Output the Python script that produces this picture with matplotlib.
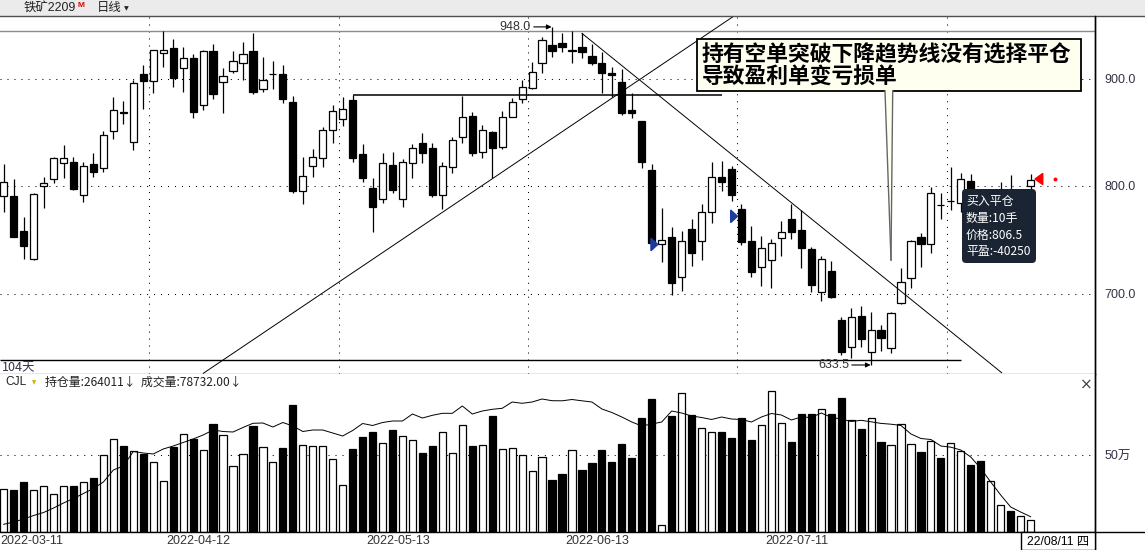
import matplotlib
matplotlib.use("Agg")
import matplotlib.pyplot as plt
import matplotlib.transforms as mtransforms
from matplotlib.patches import Rectangle, FancyBboxPatch, Polygon
import numpy as np

plt.rcParams['font.family'] = ['Liberation Sans', 'Noto Sans CJK SC', 'DejaVu Sans']
CJK = ['Noto Sans CJK SC', 'DejaVu Sans']

# ---------------- data ----------------
opens = [791.0, 790.7, 758.1, 731.8, 800.0, 806.2, 821.1, 822.0, 791.3, 820.2,
         816.5, 851.2, 868.6, 840.7, 904.2, 898.0, 923.4, 928.1, 909.5, 918.8,
         875.1, 925.6, 896.7, 907.0, 914.1, 925.6, 890.0, 903.9, 904.2, 878.1,
         795.6, 818.9, 825.8, 852.1, 862.3, 880.0, 829.8, 797.9, 787.6, 819.5,
         787.6, 821.1, 839.7, 835.3, 791.6, 818.0, 845.9, 865.1, 831.9, 850.0,
         836.0, 864.5, 880.7, 890.9, 914.1, 931.2, 933.3, 925.9, 929.6, 920.9,
         914.7, 905.4, 896.7, 870.7, 860.5, 814.9, 745.8, 752.8, 715.6, 759.7,
         749.1, 776.1, 808.1, 815.5, 778.3, 748.8, 724.9, 731.2, 751.3, 769.3,
         759.1, 741.4, 701.1, 720.9, 675.3, 650.5, 679.1, 645.9, 665.8, 649.0,
         690.9, 714.1, 752.3, 746.0, 782.3, 786.0, 783.9, 804.7, 795.0, 784.0,
         788.0, 796.0, 788.0, 800.0]
highs = [820.2, 806.5, 770.9, 793.5, 808.4, 827.3, 838.1, 827.3, 822.0, 830.4,
         851.2, 882.5, 879.1, 898.6, 912.6, 926.5, 944.2, 936.7, 929.3, 922.5,
         926.2, 932.1, 909.5, 925.6, 934.0, 942.6, 920.0, 916.3, 912.6, 883.7,
         827.3, 834.7, 854.9, 875.1, 882.5, 884.7, 839.1, 807.4, 831.0, 831.3,
         824.8, 839.1, 849.0, 840.3, 822.0, 845.9, 884.0, 869.1, 856.7, 851.2,
         870.2, 881.6, 898.6, 915.1, 938.9, 948.0, 942.6, 944.2, 942.0, 931.8,
         924.9, 911.0, 908.8, 886.8, 860.5, 820.2, 779.3, 761.6, 758.4, 769.0,
         783.3, 822.0, 823.3, 818.9, 783.3, 762.8, 753.5, 750.4, 767.7, 783.0,
         777.7, 743.3, 734.9, 730.2, 678.4, 686.2, 688.4, 682.5, 670.7, 683.1,
         723.4, 749.8, 756.6, 799.4, 793.8, 818.0, 811.8, 811.2, 796.0, 796.0,
         804.0, 810.2, 797.0, 811.3]
lows = [776.1, 752.6, 731.8, 731.2, 779.8, 803.1, 807.7, 796.0, 785.4, 808.7,
        813.3, 843.4, 857.4, 833.5, 871.6, 886.8, 911.0, 892.4, 887.7, 863.0,
        870.7, 881.2, 868.2, 904.8, 898.6, 885.6, 887.7, 890.2, 877.0, 793.2,
        783.3, 808.7, 818.0, 839.7, 856.0, 822.6, 804.0, 757.0, 784.5, 793.2,
        780.7, 807.2, 821.7, 790.0, 778.3, 812.4, 839.7, 827.9, 825.8, 807.2,
        834.1, 863.9, 876.9, 890.0, 905.4, 919.7, 924.9, 914.1, 918.8, 912.6,
        886.8, 882.5, 866.0, 863.0, 816.5, 746.7, 729.6, 698.6, 702.6, 725.6,
        731.2, 765.9, 795.6, 786.3, 745.1, 715.6, 707.0, 704.8, 734.9, 750.7,
        723.4, 701.7, 693.3, 695.5, 642.8, 639.7, 650.5, 633.5, 646.8, 644.4,
        690.2, 704.8, 724.4, 738.0, 769.0, 777.7, 776.1, 787.0, 778.0, 780.0,
        783.0, 784.0, 784.0, 796.0]
closes = [804.0, 752.8, 744.5, 792.6, 802.8, 825.8, 825.8, 796.9, 818.3, 813.3,
          847.2, 870.4, 868.3, 895.5, 898.0, 926.2, 926.5, 900.2, 918.8, 869.1,
          925.6, 885.3, 902.3, 916.0, 922.8, 887.7, 898.3, 904.2, 881.2, 795.3,
          809.0, 826.7, 851.8, 869.5, 871.6, 825.8, 807.2, 780.2, 821.1, 796.3,
          822.6, 835.1, 830.4, 791.6, 818.9, 842.8, 863.9, 831.0, 852.1, 835.1,
          863.9, 878.1, 892.4, 905.8, 935.8, 925.9, 929.6, 926.2, 924.9, 914.7,
          904.8, 903.3, 867.6, 868.2, 822.6, 746.7, 749.5, 710.0, 749.1, 737.4,
          775.5, 808.7, 804.0, 791.6, 748.2, 720.3, 742.6, 746.7, 756.9, 756.9,
          742.0, 707.9, 731.8, 696.5, 645.9, 678.4, 657.4, 665.8, 658.3, 681.6,
          711.0, 748.6, 745.8, 793.2, 782.0, 786.3, 806.5, 790.0, 786.0, 794.0,
          795.0, 790.0, 795.0, 805.6]
volume = [279000, 273000, 323000, 273000, 297000, 245000, 297000, 297000, 323000, 349000,
          498000, 602000, 556000, 526000, 505000, 453000, 329000, 550000, 634000, 602000,
          531000, 701000, 628000, 427000, 505000, 688000, 550000, 453000, 545000, 825000,
          563000, 556000, 556000, 472000, 303000, 539000, 617000, 649000, 576000, 662000,
          623000, 595000, 513000, 558000, 649000, 511000, 693000, 558000, 563000, 753000,
          537000, 544000, 498000, 394000, 485000, 338000, 377000, 531000, 403000, 448000,
          532000, 455000, 571000, 481000, 740000, 864000, 44000, 753000, 901000, 760000,
          673000, 649000, 649000, 610000, 740000, 597000, 693000, 914000, 706000, 584000,
          766000, 766000, 797000, 766000, 870000, 725000, 669000, 738000, 584000, 563000,
          701000, 571000, 519000, 593000, 481000, 578000, 526000, 435000, 463000, 331000,
          175000, 138000, 104000, 78732]
open_interest = [226000, 237500, 252500, 270000, 285000, 307500, 332500, 355000, 380000, 405000,
                 437500, 497500, 517500, 590000, 582500, 577500, 602500, 617500, 635000, 652500,
                 672500, 697500, 690000, 687500, 710000, 731000, 732500, 712500, 735000, 717500,
                 690000, 697500, 697500, 682500, 667500, 695000, 730000, 720000, 735000, 742500,
                 742500, 777500, 757500, 771000, 781000, 781000, 817500, 777500, 792500, 801000,
                 806000, 837500, 831000, 837500, 852500, 844000, 843500, 850000, 843500, 837500,
                 802500, 785000, 762500, 737500, 717500, 727500, 737500, 792500, 782500, 767500,
                 760000, 750000, 762500, 752500, 750000, 737500, 762500, 780000, 772500, 747500,
                 762500, 760000, 782500, 761000, 752500, 740000, 746000, 738500, 730500, 726500,
                 720000, 677500, 655000, 650000, 617500, 611500, 597500, 562500, 505000, 437500,
                 372500, 312500, 287500, 264011]

date_tick_idx = [0, 20, 40, 60, 80]
date_tick_labels = ['2022-03-11', '2022-04-12', '2022-05-13', '2022-06-13', '2022-07-11']
month_start_idx = [15, 34, 53, 74, 95]
price_ticks = [700, 800, 900]
price_tick_labels = ['700.0', '800.0', '900.0']
vol_ticks = [500000]
vol_tick_labels = ['50万']
last_date_label = '22/08/11 四'

high_mark = (55, 948.0)
low_mark = (87, 633.5)
resist_start, resist_end = 35, 72.05
up_trend = [(20.02, 625.77), (73.25, 958.14)]
down_trend = [(58.0, 942.0), (100.1, 626.3)]
top_line_level = 944.5
range_line_level = 638.1
range_line_end = 96.0
sell_signals_idx = [66, 74]
sell_signals_price = [745.6, 771.8]
buy_close_idx = 103
buy_close_price = 806.5

# ---------------- layout ----------------
W, H = 1145, 550
fig = plt.figure(figsize=(W / 100, H / 100), dpi=100)
fig.patch.set_facecolor('white')


def fx(px):
    return px / W


def fy(py):
    return 1 - py / H


def px2i(px):
    return (px - 3.7) / 9.97


def py2p(py):
    return 800 + (186 - py) / 1.075


XL = (px2i(0), px2i(1095))
ax = fig.add_axes([0, fy(374), fx(1095), (374 - 16) / H])
axv = fig.add_axes([0, fy(532), fx(1095), (532 - 374) / H])

n = len(opens)
x = np.arange(n)
o = np.array(opens); c = np.array(closes); hi = np.array(highs); lo = np.array(lows)
up = c >= o
fills = np.where(up, 'white', 'black')

ax.set_xlim(*XL)
ax.set_ylim(py2p(374), py2p(16))
axv.set_xlim(*XL)
axv.set_ylim(0, 1026000)

grid_kw = dict(color='black', lw=0.75, linestyle=(0, (1, 5.7)), zorder=0)
for lvl in price_ticks:
    ax.axhline(lvl, **grid_kw)
for m in month_start_idx:
    ax.axvline(m - 0.4, **grid_kw)
for v in vol_ticks:
    axv.axhline(v, **grid_kw)

# candles
ax.vlines(x, lo, hi, color='black', lw=0.9, zorder=2)
body_lo = np.minimum(o, c)
body_h = np.maximum(np.abs(c - o), 0.35)
ax.bar(x, body_h, bottom=body_lo, width=0.72, color=fills, edgecolor='black',
       linewidth=0.9, zorder=3)

# volume + open interest
axv.bar(x, volume, width=0.72, color=fills, edgecolor='black', linewidth=0.9, zorder=2)
axo = axv.twinx()
axo.set_ylim(187511, 977511)
axo.set_xlim(*XL)
axo.plot(x, open_interest, color='black', lw=0.7)
axo.axis('off')

# drawn lines
ax.axhline(top_line_level, color='#8c8c8c', lw=1, zorder=1)
ax.hlines(range_line_level, XL[0], range_line_end, color='black', lw=1, zorder=1)
ax.hlines(highs[resist_start], resist_start, resist_end, color='black', lw=1.1, zorder=4)
(ux0, uy0), (ux1, uy1) = up_trend
ax.plot([ux0, ux1], [uy0, uy1], color='black', lw=0.7, zorder=4)
(dx0, dy0), (dx1, dy1) = down_trend
ax.plot([dx0, dx1], [dy0, dy1], color='black', lw=0.7, zorder=4)

# high / low labels
ax.annotate('948.0', xy=(high_mark[0] - 0.05, high_mark[1]), xytext=(px2i(531), high_mark[1]),
            ha='right', va='center', fontsize=9, color='#333333', zorder=6,
            arrowprops=dict(arrowstyle='-|>', lw=0.8, color='black', shrinkA=0, shrinkB=0,
                            mutation_scale=7))
ax.annotate('633.5', xy=(low_mark[0] - 0.05, low_mark[1]), xytext=(px2i(849), low_mark[1]),
            ha='right', va='center', fontsize=9, color='#333333', zorder=6,
            arrowprops=dict(arrowstyle='-|>', lw=0.8, color='black', shrinkA=0, shrinkB=0,
                            mutation_scale=7))
ax.text(XL[0] + 0.2, range_line_level - 1.0, '104天', ha='left', va='top', fontsize=9,
        color='#333344', family=CJK)

# trade signals
for si, sp in zip(sell_signals_idx, sell_signals_price):
    tip = si - 0.4
    tri = Polygon([(tip - 0.68, sp + 5.8), (tip - 0.68, sp - 5.8), (tip, sp)],
                  closed=True, color='#1c3aa0', zorder=6)
    ax.add_patch(tri)
tip = buy_close_idx + 0.44
ax.add_patch(Polygon([(tip + 0.78, buy_close_price + 5.2), (tip + 0.78, buy_close_price - 5.2),
                      (tip, buy_close_price)], closed=True, color='#ff0000', zorder=6))
ax.plot([buy_close_idx + 2.4], [buy_close_price], marker='o', ms=1.8, color='#ff0000', zorder=6)

# callout annotation
bx0, bx1, by0, by1 = px2i(696.7), px2i(1080.7), py2p(91), py2p(39.3)
ax.add_patch(Rectangle((bx0, by0), bx1 - bx0, by1 - by0, facecolor='#fffff0',
                       edgecolor='black', lw=1.3, zorder=7))
pl, pr, tipx, tipy = px2i(885), px2i(892.7), px2i(891), py2p(260)
ax.add_patch(Polygon([(pl, by0 + 1.2), (pr, by0 + 1.2), (tipx, tipy)], closed=True,
                     facecolor='#fffff0', edgecolor='none', zorder=8))
ax.plot([pl, tipx], [by0, tipy], color='#666666', lw=1.0, zorder=8)
ax.plot([pr, tipx], [by0, tipy], color='#666666', lw=1.0, zorder=8)
ax.text(px2i(701.5), py2p(55), '持有空单突破下降趋势线没有选择平仓', ha='left', va='center',
        fontsize=15.7, fontweight='bold', family=CJK, color='black', zorder=9)
ax.text(px2i(701.5), py2p(76), '导致盈利单变亏损单', ha='left', va='center',
        fontsize=15.7, fontweight='bold', family=CJK, color='black', zorder=9)

# axes styling
for a in (ax, axv):
    a.set_xticks([])
    a.yaxis.tick_right()
    a.tick_params(axis='y', length=0, pad=7, labelsize=9, labelcolor='#333344')
    a.spines['left'].set_visible(False)
    a.spines['top'].set_visible(False)
    a.spines['right'].set_color('black')
    a.spines['right'].set_linewidth(1)
ax.set_yticks(price_ticks)
ax.set_yticklabels(price_tick_labels)
axv.set_yticks(vol_ticks)
axv.set_yticklabels(vol_tick_labels)
ax.spines['bottom'].set_color('#808080')
ax.spines['bottom'].set_linewidth(1)
axv.spines['bottom'].set_visible(False)

# date labels
trans = mtransforms.blended_transform_factory(axv.transData, fig.transFigure)
for k, (di, dl) in enumerate(zip(date_tick_idx, date_tick_labels)):
    if k == 0:
        axv.text(XL[0] + 0.05, fy(541), dl, transform=trans, ha='left', va='center',
                 fontsize=9, color='#333333')
    else:
        axv.text(di - 0.45, fy(541), dl, transform=trans, ha='center', va='center',
                 fontsize=9, color='#333333')

# figure-level chrome
fig.patches.append(Rectangle((0, fy(16)), 1, 16 / H, transform=fig.transFigure,
                             facecolor='#ebebeb', edgecolor='none', zorder=0))
fig.lines.append(plt.Line2D([0, 1], [fy(16), fy(16)], transform=fig.transFigure,
                            color='#505050', lw=1))
fig.lines.append(plt.Line2D([0, 1], [fy(532), fy(532)], transform=fig.transFigure,
                            color='black', lw=1))
fig.lines.append(plt.Line2D([fx(1095), fx(1095)], [fy(550), fy(16)], transform=fig.transFigure,
                            color='black', lw=1))
fig.text(fx(24), fy(8), '铁矿2209', ha='left', va='center', fontsize=8.9, color='#222222')
fig.text(fx(77), fy(5.5), 'M', ha='left', va='center', fontsize=6, fontweight='bold',
         color='#e00000')
fig.text(fx(97), fy(8), '日线', ha='left', va='center', fontsize=8.9, color='#222222',
         family=CJK)
fig.text(fx(124), fy(8.5), '▼', ha='left', va='center', fontsize=4.5, color='#222222',
         family=['DejaVu Sans'])

fig.text(fx(5), fy(382), 'CJL', ha='left', va='center', fontsize=8.6, color='#222222')
fig.text(fx(32), fy(382.5), '▼', ha='left', va='center', fontsize=4, color='#c8b400',
         family=['DejaVu Sans'])
fig.text(fx(45), fy(382), '持仓量:264011↓  成交量:78732.00↓', ha='left', va='center',
         fontsize=8.6, color='#222222', family=CJK)
fig.text(fx(1086), fy(385), '×', ha='center', va='center', fontsize=11, color='#444444',
         family=['DejaVu Sans'])

# last date box
fig.patches.append(Rectangle((fx(1021), fy(550)), fx(1095) - fx(1021), 18 / H,
                             transform=fig.transFigure, facecolor='white',
                             edgecolor='black', lw=1, zorder=3))
fig.text(fx(1058), fy(541), last_date_label, ha='center', va='center', fontsize=8.8,
         color='black', zorder=4)

# tooltip (pixel-based, in inches)
tip_box = FancyBboxPatch((9.62, (H - 263) / 100), 0.74, 0.74,
                         boxstyle='round,pad=0,rounding_size=0.04',
                         transform=fig.dpi_scale_trans, facecolor='#1b2433',
                         edgecolor='none', zorder=10)
fig.patches.append(tip_box)
for ty, tt in zip([201.7, 218.3, 235.0, 251.7],
                  ['买入平仓', '数量:10手', '价格:806.5', '平盈:-40250']):
    fig.text(fx(966), fy(ty), tt, ha='left', va='center', fontsize=8.6, color='white',
             family=CJK, zorder=11)

fig.savefig('out.png', dpi=100)
